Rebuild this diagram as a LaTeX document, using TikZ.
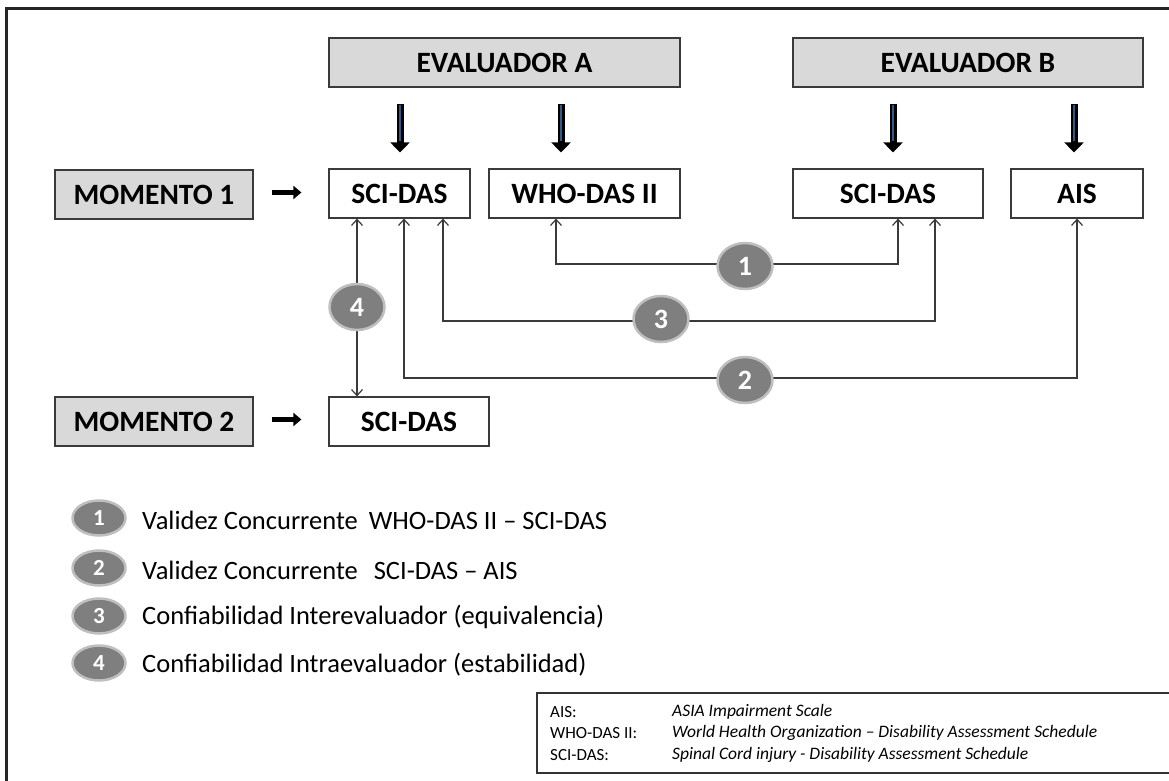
\documentclass[tikz,border=0pt]{standalone}
\usepackage{fontspec}
\setmainfont{Carlito}
\usetikzlibrary{arrows.meta,shapes.geometric,calc}
\definecolor{boxgray}{HTML}{D9D9D9}
\definecolor{lineg}{HTML}{3A3A3A}
\definecolor{badgefill}{HTML}{7F7F7F}
\definecolor{badgering}{HTML}{BFBFBF}
\definecolor{stripe}{HTML}{2E5C8A}
\begin{document}
\begin{tikzpicture}[x=1pt,y=-1pt,
  box/.style={draw=lineg, line width=1.2pt, inner sep=0pt, minimum height=49pt, font=\fontsize{29.5}{31}\selectfont\bfseries, text=black},
  gbox/.style={box, fill=boxgray},
  fat/.style={line width=7pt, black, -{Triangle[length=10pt,width=19pt]}, shorten <=16pt, shorten >=16pt},
  fatstripe/.style={line width=1.2pt, stripe, shorten <=17pt, shorten >=27pt},
  momarrow/.style={line width=5pt, black, -{Triangle[length=8pt,width=13pt]}, shorten <=18pt, shorten >=27pt},
  conn/.style={draw=lineg, line width=1.2pt, {Straight Barb[length=6pt,width=11pt]}-{Straight Barb[length=6pt,width=11pt]}},
  badge/.style={ellipse, fill=badgefill, draw=badgering, line width=2.5pt, minimum width=55pt, minimum height=46pt, inner sep=0pt, text=white, font=\fontsize{28}{28}\selectfont\bfseries},
  lbadge/.style={badge, minimum width=53pt, minimum height=35pt, font=\fontsize{23}{23}\selectfont\bfseries},
  legtext/.style={anchor=west, inner sep=0pt, font=\fontsize{26.5}{30}\selectfont},
  abbr/.style={anchor=west, inner sep=0pt, font=\fontsize{17}{19}\selectfont},
  abbri/.style={abbr, font=\fontsize{17.5}{19}\selectfont\itshape}
]
\path[use as bounding box] (0,0) rectangle (1169,781);
\fill[white] (0,0) rectangle (1169,781);
\begin{scope}
\clip (0,0) rectangle (1169,781);
\draw[line width=3pt, draw=black!85] (6,9) rectangle (1180,795);
\draw[line width=1.3pt, draw=black!80] (537,693) rectangle (1180,773);
\end{scope}

% evaluators
\node[gbox, minimum width=351pt] (evA) at (504.5,62.5) {EVALUADOR A};
\node[gbox, minimum width=350pt] (evB) at (968,62.5) {EVALUADOR B};

% moment 1 row
\node[gbox, minimum width=198pt] (m1) at (154,194.5) {MOMENTO 1};
\node[box, minimum width=141pt] (sA) at (399.5,193.5) {SCI-DAS};
\node[box, minimum width=191pt] (who) at (584.5,193.5) {WHO-DAS II};
\node[box, minimum width=190pt] (sB) at (888,193.5) {SCI-DAS};
\node[box, minimum width=132pt] (ais) at (1077,193.5) {AIS};

% moment 2 row
\node[gbox, minimum width=198pt] (m2) at (154,421.5) {MOMENTO 2};
\node[box, minimum width=160pt] (s2) at (409,421.5) {SCI-DAS};

% fat arrows from evaluators
\foreach \src/\dst/\dx in {evA/sA/0.5, evA/who/-23.5, evB/sB/5, evB/ais/-3}{
  \draw[fat] ([xshift=\dx pt]\dst.north |- \src.south) -- ([xshift=\dx pt]\dst.north);
  \draw[fatstripe] ([xshift=\dx pt]\dst.north |- \src.south) -- ([xshift=\dx pt]\dst.north);
}

% moment arrows
\draw[momarrow] ([yshift=2pt]m1.east) -- ([yshift=2pt]m1.east -| sA.west);
\draw[momarrow] ([yshift=2pt]m2.east) -- ([yshift=2pt]m2.east -| s2.west);

% connector anchors
\coordinate (c1) at (745,264);
\coordinate (c3) at (661,321);
\coordinate (c2) at (745,378);

\draw[conn] ([xshift=-28.5pt]who.south) |- (c1) -| ([xshift=10pt]sB.south);
\draw[conn] ([xshift=43.5pt]sA.south) |- (c3) -| ([xshift=47pt]sB.south);
\draw[conn] ([xshift=4.5pt]sA.south) |- (c2) -| (ais.south);
\draw[conn] ([xshift=-42.5pt]sA.south) -- ([xshift=-52pt]s2.north);

\node[badge] (b1) at ([yshift=-2pt]c1) {1};
\node[badge] (b3) at ([yshift=2pt]c3) {3};
\node[badge] (b2) at ([yshift=-2pt]c2) {2};
\node[badge] (b4) at (357,307) {4};

% legend
\node[lbadge] (l1) at (99,518) {1};
\node[lbadge] (l2) at (99,568) {2};
\node[lbadge] (l3) at (99,616) {3};
\node[lbadge] (l4) at (99,663) {4};
\node[legtext] (t1) at (142,520) {Validez Concurrente\hspace{5pt} WHO-DAS II -- SCI-DAS};
\node[legtext] (t2) at (142,570) {Validez Concurrente\hspace{10pt} SCI-DAS -- AIS};
\node[legtext] (t3) at (142,617) {Confiabilidad Interevaluador (equivalencia)};
\node[legtext] (t4) at (142,665) {Confiabilidad Intraevaluador (estabilidad)};

% abbreviations
\node[abbr] (a1) at (550,712) {AIS:};
\node[abbr] (a2) at (550,733) {WHO-DAS II:};
\node[abbr] (a3) at (550,755) {SCI-DAS:};
\node[abbri] (d1) at (672,712) {ASIA Impairment Scale};
\node[abbri] (d2) at (672,733) {World Health Organization -- Disability Assessment Schedule};
\node[abbri] (d3) at (672,755) {Spinal Cord injury - Disability Assessment Schedule};
\end{tikzpicture}
\end{document}
